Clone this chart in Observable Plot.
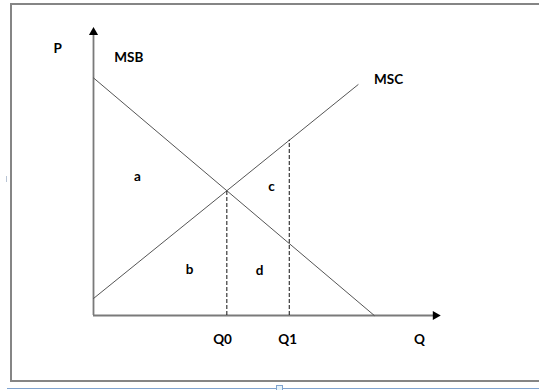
<!DOCTYPE html>
<html><head><meta charset="utf-8">
<script src="https://cdn.jsdelivr.net/npm/d3@7"></script>
<script src="https://cdn.jsdelivr.net/npm/@observablehq/plot@0.6"></script>
<style>
body{margin:0;background:#fff;}
#wrap{position:relative;width:539px;height:390px;overflow:hidden;background:#fff;}
#frame{position:absolute;left:10px;top:3px;width:620px;height:379px;border:2px solid #858585;box-sizing:border-box;}
#blue{position:absolute;left:7px;top:388px;width:540px;height:0;border-top:1px solid #7fa3cf;}
#sq{position:absolute;left:276px;top:385px;width:5px;height:5px;border:1px solid #7fa3cf;background:#e6f3fb;}
#tick{position:absolute;left:6px;top:176px;width:1px;height:6px;background:#b8c4d4;}
#chart{position:absolute;left:0;top:0;}
</style></head>
<body>
<div id="wrap">
  <div id="frame"></div>
  <div id="blue"></div>
  <div id="sq"></div>
  <div id="tick"></div>
  <div id="chart"></div>
</div>
<script>
// Demand (marginal social benefit) and supply (marginal social cost) lines
const msb = [{q: 0, p: 88}, {q: 104, p: 0}];
const msc = [{q: 0, p: 6.3}, {q: 98, p: 85.5}];
// Quantities
const q1 = 72.5;
// Axis extents
const axisQmax = 128.5;
const axisPmax = 106.7;
// Tick labels on the quantity axis
const xTicks = [
  {label: "Q0", q: 47.8},
  {label: "Q1", q: 71.9},
  {label: "Q", q: 120.7}
];
// Curve / axis labels
const curveLabels = [
  {label: "P", q: -13.3, p: 98.9},
  {label: "MSB", q: 13.1, p: 95.6},
  {label: "MSC", q: 109.3, p: 87.4}
];
// Area labels
const areaLabels = [
  {label: "a", q: 16.3, p: 51.5},
  {label: "b", q: 35.6, p: 17.0},
  {label: "c", q: 65.9, p: 47.8},
  {label: "d", q: 61.5, p: 16.7}
];

function lineAt(pts, q) {
  const [a, b] = pts;
  return a.p + (b.p - a.p) * (q - a.q) / (b.q - a.q);
}
// intersection of MSB and MSC
const sB = (msb[1].p - msb[0].p) / (msb[1].q - msb[0].q);
const sC = (msc[1].p - msc[0].p) / (msc[1].q - msc[0].q);
const q0 = (msc[0].p - msb[0].p) / (sB - sC);
const p0 = lineAt(msb, q0);
const dashed = [
  {q: q0, top: p0},
  {q: q1, top: lineAt(msc, q1)}
];

const font = "Lato, 'Open Sans', sans-serif";
const chart = Plot.plot({
  width: 539,
  height: 390,
  marginLeft: 93,
  marginRight: 95,
  marginTop: 18,
  marginBottom: 75,
  x: {domain: [0, 130], axis: null},
  y: {domain: [0, 110], axis: null},
  style: {background: "transparent", overflow: "visible"},
  marks: [
    Plot.ruleY([0], {x1: 0, x2: axisQmax - 2, stroke: "#7a7a7a", strokeWidth: 1.8}),
    Plot.ruleX([0], {y1: 0, y2: axisPmax - 2, stroke: "#7a7a7a", strokeWidth: 1.8}),
    Plot.dot([{q: axisQmax, p: 0}], {x: "q", y: "p", symbol: "triangle", r: 3.4, rotate: 90, dx: -5, fill: "#000", stroke: null}),
    Plot.dot([{q: 0, p: axisPmax}], {x: "q", y: "p", symbol: "triangle", r: 3.4, dy: 5, fill: "#000", stroke: null}),
    Plot.line(msb, {x: "q", y: "p", stroke: "#555", strokeWidth: 1}),
    Plot.line(msc, {x: "q", y: "p", stroke: "#555", strokeWidth: 1}),
    Plot.ruleX(dashed, {x: "q", y1: 0, y2: "top", stroke: "#111", strokeWidth: 1, strokeDasharray: "4,2"}),
    Plot.text(curveLabels, {x: "q", y: "p", text: "label", fontFamily: font, fontWeight: "bold", fontSize: 13.5, fill: "#000"}),
    Plot.text(areaLabels, {x: "q", y: "p", text: "label", fontFamily: font, fontWeight: "bold", fontSize: 13.5, fill: "#000"}),
    Plot.text(xTicks, {x: "q", y: () => 0, text: "label", dy: 24, fontFamily: font, fontWeight: "bold", fontSize: 13.5, fill: "#000"})
  ]
});
document.getElementById("chart").appendChild(chart);
</script>
</body></html>
